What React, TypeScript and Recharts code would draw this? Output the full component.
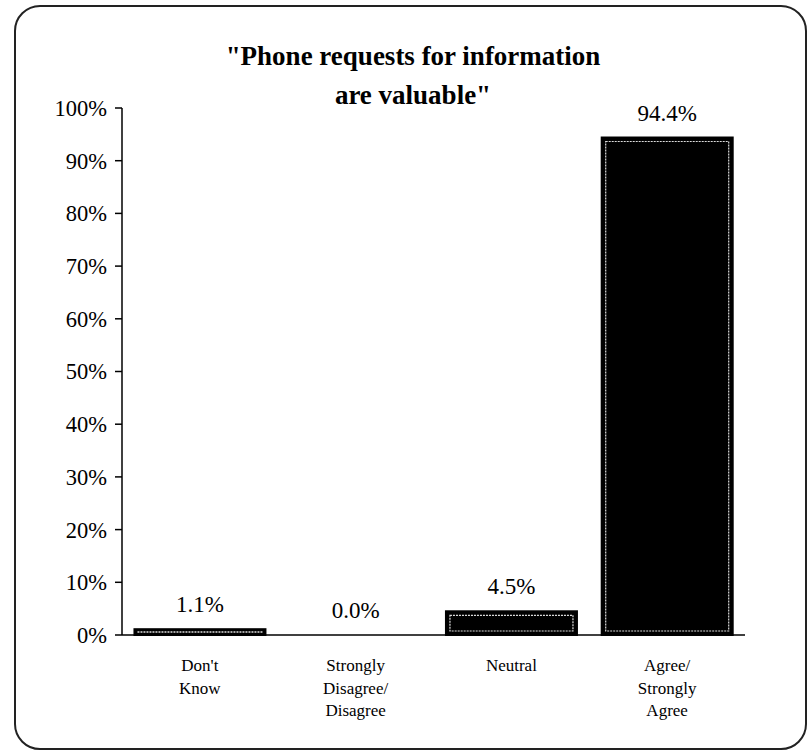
import { BarChart, Bar, XAxis, YAxis, LabelList } from 'recharts'

const categories = ["Don't Know", 'Strongly Disagree/ Disagree', 'Neutral', 'Agree/ Strongly Agree']
const tickLines = [["Don't", 'Know'], ['Strongly', 'Disagree/', 'Disagree'], ['Neutral'], ['Agree/', 'Strongly', 'Agree']]
const percents = [1.1, 0.0, 4.5, 94.4]
const yTicks = [0, 10, 20, 30, 40, 50, 60, 70, 80, 90, 100]
const bounds = [0, 1, 2, 3, 4]

const data = categories.map((c, i) => ({ name: c, idx: i, value: percents[i] }))

const FONT = 'Liberation Serif'

const BarShape = (props: any) => {
  const { x, y, width, height } = props
  if (!height || height <= 0) return null
  const inset = 4
  return (
    <g>
      <rect x={x} y={y} width={width} height={height} fill="#000" stroke="#000" strokeWidth={2} />
      {height > inset * 2 + 1 ? (
        <rect
          x={x + inset}
          y={y + inset}
          width={width - inset * 2}
          height={height - inset * 2}
          fill="#000"
          stroke="#ddd"
          strokeWidth={1.2}
          strokeDasharray="2 1"
        />
      ) : (
        <line x1={x + 3} x2={x + width - 3} y1={y + height / 2} y2={y + height / 2} stroke="#ddd" strokeWidth={1.5} strokeDasharray="2 1" />
      )}
    </g>
  )
}

const CatTick = (props: any) => {
  const { x, y, payload } = props
  const lines = tickLines[payload.index] ?? []
  return (
    <g>
      {lines.map((l, i) => (
        <text key={i} x={x} y={y + 28 + i * 22.5} textAnchor="middle" fontFamily={FONT} fontSize={17} fill="#000">
          {l}
        </text>
      ))}
    </g>
  )
}

export default function App() {
  return (
    <div style={{ position: 'absolute', left: 0, top: 0, width: 812, height: 756, background: '#fff' }}>
      <div
        style={{
          position: 'absolute', left: 14, top: 5, width: 793, height: 745,
          border: '2px solid #222', borderRadius: 26, boxSizing: 'border-box',
        }}
      />
      <div
        style={{
          position: 'absolute', left: 0, top: 37, width: 826, textAlign: 'center',
          fontFamily: FONT, fontWeight: 700, fontSize: 27, lineHeight: '39px', color: '#000',
        }}
      >
        "Phone requests for information
        <br />
        are valuable"
      </div>
      <div style={{ position: 'absolute', left: 0, top: 0 }}>
        <BarChart
          width={812}
          height={756}
          data={data}
          margin={{ top: 108, right: 67, bottom: 41, left: 44 }}
          barCategoryGap="8%"
        >
          <XAxis
            dataKey="name"
            xAxisId="cat"
            tick={<CatTick />}
            tickLine={false}
            axisLine={{ stroke: '#000', strokeWidth: 1.5 }}
            interval={0}
            height={80}
          />
          <XAxis
            xAxisId="bound"
            type="number"
            dataKey="idx"
            domain={[0, 4]}
            ticks={bounds}
            tick={false}
            tickSize={6}
            tickLine={{ stroke: '#000', strokeWidth: 1.5 }}
            axisLine={false}
            height={0}
          />
          <YAxis
            domain={[0, 100]}
            ticks={yTicks}
            interval={0}
            width={78}
            tickSize={7}
            tickMargin={8}
            tickFormatter={(v: number) => `${v}%`}
            tick={{ fontFamily: FONT, fontSize: 22.5, fill: '#000' }}
            tickLine={{ stroke: '#000', strokeWidth: 1.5 }}
            axisLine={{ stroke: '#000', strokeWidth: 1.5 }}
          />
          <Bar dataKey="value" xAxisId="cat" shape={<BarShape />} isAnimationActive={false}>
            <LabelList
              dataKey="value"
              position="top"
              offset={17}
              formatter={(v: any) => `${Number(v).toFixed(1)}%`}
              style={{ fontFamily: FONT, fontSize: 23, fill: '#000' }}
            />
          </Bar>
        </BarChart>
      </div>
    </div>
  )
}
